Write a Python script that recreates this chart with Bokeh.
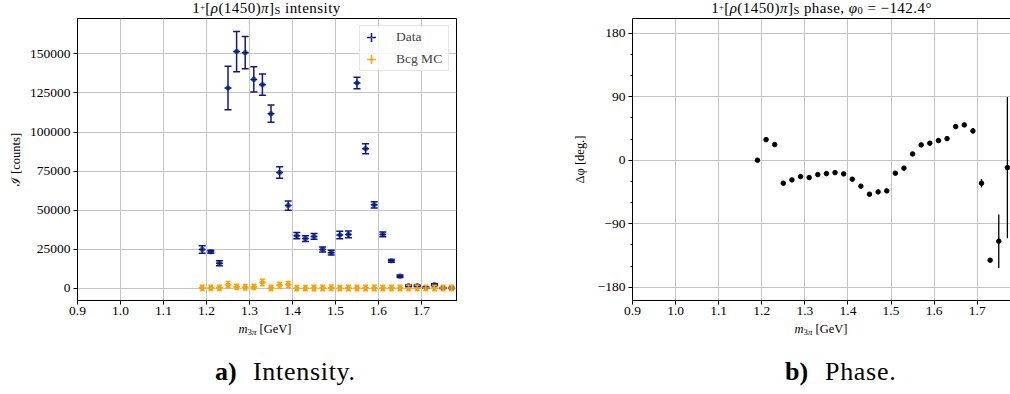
from bokeh.plotting import figure
from bokeh.layouts import row, column
from bokeh.models import (ColumnDataSource, Whisker, TeeHead, Legend, LegendItem, Div,
                          FixedTicker, Range1d, PrintfTickFormatter, NumeralTickFormatter,
                          LinearAxis)
from bokeh.embed import file_html
from bokeh.resources import INLINE

# ---------------- data ----------------
mass = [1.19, 1.21, 1.23, 1.25, 1.27, 1.29, 1.31, 1.33, 1.35, 1.37,
        1.39, 1.41, 1.43, 1.45, 1.47, 1.49, 1.51, 1.53, 1.55, 1.57,
        1.59, 1.61, 1.63, 1.65, 1.67, 1.69, 1.71, 1.73, 1.75, 1.77]
bin_half_width = 0.008

data_intensity = [25000, 23500, 16200, 128200, 151500, 150800, 133700, 130300, 111800, 74200,
                  53000, 33800, 31900, 33300, 25000, 22900, 34200, 34600, 131400, 89400,
                  53500, 34600, 17700, 7900, 1700, 1700, 500, 2400, 300, 300]
data_error = [2400, 1000, 1600, 13900, 12900, 10300, 8100, 6800, 5500, 3700,
              3000, 2000, 1800, 1800, 1600, 1500, 2400, 2200, 3700, 3200,
              2000, 1500, 900, 800, 600, 600, 400, 600, 300, 300]

bcg_intensity = [400, 400, 400, 2400, 1000, 800, 1000, 3800, 300, 2100,
                 2600, 200, 200, 300, 300, 500, 200, 300, 300, 300,
                 300, 300, 300, 300, 300, 300, 300, 300, 300, 300]
bcg_error = [1700, 1700, 1700, 2000, 1700, 1700, 1700, 2100, 1700, 1900,
             1900, 1700, 1700, 1700, 1700, 1700, 1700, 1700, 1700, 1700,
             1700, 1700, 1700, 1700, 1700, 1700, 1700, 1700, 1700, 1700]

phase_deg = [0.0, 29.2, 22.1, -32.6, -27.9, -23.2, -24.6, -20.4, -19.0, -17.6,
             -19.4, -26.9, -36.8, -48.2, -44.9, -43.5, -18.4, -11.3, 8.9, 21.7,
             24.1, 27.8, 30.6, 47.6, 50.0, 41.5, -32.6, -141.7, -114.8, -10.5]
phase_error = [0.5, 1.0, 1.0, 1.0, 1.0, 1.0, 1.0, 1.0, 1.0, 1.0,
               1.0, 1.0, 1.0, 1.0, 1.0, 1.0, 1.0, 1.0, 1.0, 1.0,
               1.0, 1.0, 1.0, 1.5, 1.5, 4.0, 6.0, 2.5, 38.0, 100.0]

x_ticks = [0.9, 1.0, 1.1, 1.2, 1.3, 1.4, 1.5, 1.6, 1.7]
intensity_ticks = [0, 25000, 50000, 75000, 100000, 125000, 150000]
phase_ticks = [-180, -90, 0, 90, 180]
phase_minor_ticks = [-150, -120, -60, -30, 30, 60, 120, 150]

# ---------------- style / geometry ----------------
FONT = "Liberation Serif"
NAVY = "#14148a"
BLUE = "#1f77b4"
ORANGE = "#ffa500"
DORANGE = "#ff8c00"
GRID = "#c4c4c4"

TITLE_H = 18          # html row with the panel titles
FIG_TOP_B = 0         # frame top at 18 px
FRAME_H = 282         # frame bottom at 300 px
FIG_BOT_B = 22
FIG_H = FIG_TOP_B + FRAME_H + FIG_BOT_B
BOTTOM_H = 68         # html row with x labels and captions (starts at 322 px)

L_W, L_BL, L_FW = 540, 77, 379
R_W, R_BL, R_FW = 470, 92, 378
L_XR = (0.9, 0.9 + L_FW / 430.0)
L_YR = (-7673.0, 172634.0)
R_XR = (0.9, 0.9 + R_FW / 430.9)
R_YR = (-198.85, 200.83)

BASE_CSS = f"font-family:'{FONT}',serif;color:#000;white-space:nowrap;line-height:1;"
SUP = '<span style="font-size:55%;line-height:0;vertical-align:0.42em">{}</span>'
SUB = '<span style="font-size:70%;line-height:0;vertical-align:-0.12em">{}</span>'
XSUB = '<span style="font-size:70%;line-height:0;vertical-align:-0.22em">{}</span>'


def box(left, top, width, size, html, align="center", extra=""):
    return (f'<div style="position:absolute;left:{left}px;top:{top}px;width:{width}px;'
            f'text-align:{align};font-size:{size}px;{BASE_CSS}{extra}">{html}</div>')


def html_div(width, height, parts):
    inner = (f'<div style="position:relative;width:{width}px;height:{height}px;'
             f'overflow:visible;">' + "".join(parts) + '</div>')
    return Div(text=inner, width=width, height=height, margin=0,
               styles={"overflow": "visible"})


def base_fig(width, bl, fw, xr, yr):
    p = figure(width=width, height=FIG_H, x_range=Range1d(*xr), y_range=Range1d(*yr),
               min_border_left=bl, min_border_right=width - bl - fw,
               min_border_top=FIG_TOP_B, min_border_bottom=FIG_BOT_B,
               output_backend="svg", toolbar_location=None, tools="")
    p.background_fill_color = "white"
    p.border_fill_color = None
    p.outline_line_color = "black"
    p.outline_line_width = 1
    p.grid.grid_line_color = GRID
    p.grid.grid_line_width = 1
    for ax in (p.xaxis[0], p.yaxis[0]):
        ax.major_label_text_font = FONT
        ax.major_label_text_font_size = "13.5px"
        ax.major_label_text_color = "black"
        ax.major_tick_in = 0
        ax.major_tick_out = 4
        ax.minor_tick_in = 0
        ax.minor_tick_out = 0
        ax.major_label_standoff = 3
        ax.axis_line_color = "black"
        ax.major_tick_line_color = "black"
        ax.axis_label_text_font = FONT
        ax.axis_label_text_font_style = "normal"
        ax.axis_label_text_font_size = "12.5px"
        ax.axis_label_text_color = "black"
    p.xaxis[0].major_label_standoff = 2
    p.xaxis[0].ticker = FixedTicker(ticks=x_ticks)
    p.xaxis[0].formatter = PrintfTickFormatter(format="%.1f")
    return p


# ---------------- left: intensity ----------------
p1 = base_fig(L_W, L_BL, L_FW, L_XR, L_YR)
p1.yaxis[0].ticker = FixedTicker(ticks=intensity_ticks)
p1.yaxis[0].formatter = NumeralTickFormatter(format="0")
p1.yaxis[0].axis_label = "ℐ [counts]"
p1.yaxis[0].axis_label_standoff = 4


def make_source(xs, ys, errs):
    return ColumnDataSource(dict(
        x=xs, y=ys,
        ylo=[v - e for v, e in zip(ys, errs)],
        yhi=[v + e for v, e in zip(ys, errs)],
        xlo=[m - bin_half_width for m in xs],
        xhi=[m + bin_half_width for m in xs]))


src_d = make_source(mass, data_intensity, data_error)
src_b = make_source(mass, bcg_intensity, bcg_error)


def add_errorbars(p, src, color, cap):
    wy = Whisker(source=src, base="x", lower="ylo", upper="yhi", dimension="height",
                 line_color=color, line_width=1.5,
                 upper_head=TeeHead(size=cap, line_color=color, line_width=1.5),
                 lower_head=TeeHead(size=cap, line_color=color, line_width=1.5),
                 level="glyph")
    wx = Whisker(source=src, base="y", lower="xlo", upper="xhi", dimension="width",
                 line_color=color, line_width=1.5, upper_head=None, lower_head=None,
                 level="glyph")
    p.add_layout(wy)
    p.add_layout(wx)


add_errorbars(p1, src_d, NAVY, 7)
p1.scatter("x", "y", source=src_d, size=4.5, color=BLUE)
add_errorbars(p1, src_b, ORANGE, 5)
p1.scatter("x", "y", source=src_b, size=4, color=DORANGE)

# legend proxies: zero-size markers (invisible in the plot, drawn in the legend)
lg_d1 = p1.scatter(x=mass[:1], y=data_intensity[:1], size=0, marker="cross",
                   line_color=NAVY, line_width=1.5)
lg_d2 = p1.scatter(x=mass[:1], y=data_intensity[:1], size=0, marker="dot",
                   line_color=BLUE, fill_color=BLUE)
lg_b1 = p1.scatter(x=mass[:1], y=bcg_intensity[:1], size=0, marker="cross",
                   line_color=ORANGE, line_width=1.5)
lg_b2 = p1.scatter(x=mass[:1], y=bcg_intensity[:1], size=0, marker="dot",
                   line_color=DORANGE, fill_color=DORANGE)
legend = Legend(items=[LegendItem(label="Data", renderers=[lg_d1, lg_d2]),
                       LegendItem(label="Bcg MC", renderers=[lg_b1, lg_b2])],
                location="top_right", margin=7,
                padding=dict(left=0, right=0, top=0, bottom=0), spacing=0,
                glyph_width=22, glyph_height=22, label_height=20, label_width=52,
                label_standoff=14, label_text_font=FONT, label_text_font_size="13.5px",
                border_line_color="#cccccc", border_line_width=1,
                background_fill_color="white", background_fill_alpha=0.85)
p1.add_layout(legend)

# ---------------- right: phase ----------------
p2 = base_fig(R_W, R_BL, R_FW, R_XR, R_YR)
p2.outline_line_color = None
top_axis = LinearAxis(ticker=FixedTicker(ticks=[]), major_tick_out=0, major_tick_in=0,
                      minor_tick_out=0, minor_tick_in=0, major_label_text_font_size="0px",
                      axis_line_color="black")
p2.add_layout(top_axis, "above")
p2.yaxis[0].ticker = FixedTicker(ticks=phase_ticks, minor_ticks=phase_minor_ticks)
p2.yaxis[0].minor_tick_out = 2
p2.yaxis[0].minor_tick_line_color = "black"
p2.yaxis[0].major_label_overrides = {-180: "−180", -90: "−90"}
p2.yaxis[0].axis_label = "Δφ [deg.]"
p2.yaxis[0].axis_label_standoff = 8

src_p = ColumnDataSource(dict(
    x=mass, y=phase_deg,
    ylo=[v - e for v, e in zip(phase_deg, phase_error)],
    yhi=[v + e for v, e in zip(phase_deg, phase_error)]))
p2.segment(x0="x", y0="ylo", x1="x", y1="yhi", source=src_p, line_color="black",
           line_width=1.3)
p2.scatter("x", "y", source=src_p, size=4.5, color="black")

# ---------------- html texts (titles, x labels, captions) ----------------
TLS = "letter-spacing:0.45px;"
state = "1" + SUP.format("+") + "[<i>ρ</i>(1450)<i>π</i>]" + SUB.format("S")
title_l = html_div(L_W, TITLE_H, [box(L_BL, 1, L_FW, 15, state + " intensity", extra=TLS)])
title_r = html_div(R_W, TITLE_H, [box(R_BL, 1, 379, 15,
                                      state + " phase, <i>φ</i>" + SUB.format("0")
                                      + " = −142.4°", extra=TLS)])

xlab = "<i>m</i>" + XSUB.format("3<i>π</i>") + " [GeV]"
LS = "letter-spacing:0.7px;"
bottom_l = html_div(L_W, BOTTOM_H, [
    box(0, 1, 530, 12.5, xlab),
    box(215, 37, 40, 26, "<b>a)</b>", align="left"),
    box(253, 37, 150, 26, "Intensity.", align="left", extra=LS),
])
bottom_r = html_div(R_W, BOTTOM_H, [
    box(R_BL, 1, 378, 12.5, xlab),
    box(785 - L_W, 37, 40, 26, "<b>b)</b>", align="left"),
    box(825 - L_W, 37, 120, 26, "Phase.", align="left", extra=LS),
])

layout = column(row(title_l, title_r), row(p1, p2), row(bottom_l, bottom_r))
open("out.html", "w").write(file_html(layout, INLINE))
